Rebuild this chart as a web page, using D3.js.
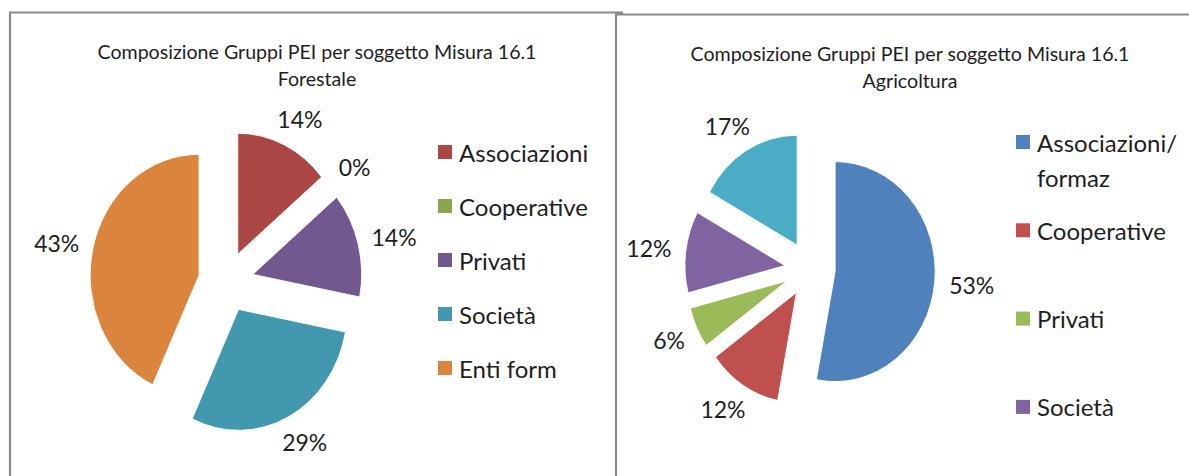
<!DOCTYPE html>
<html>
<head>
<meta charset="utf-8">
<script src="https://cdn.jsdelivr.net/npm/d3@7"></script>
<style>
  body { margin: 0; background: #fff; }
  svg text { font-family: Lato, "Open Sans", sans-serif; fill: #1e1e1e; }
</style>
</head>
<body>
<div id="wrapper"></div>
<script>
// Forestale (left chart)
const forCats = ["Associazioni", "Cooperative", "Privati", "Società", "Enti form"]
const forValues = [14, 0, 14, 29, 43]
const forColors = ["#aa4643", "#89a54e", "#71588f", "#4198af", "#db843d"]

// Agricoltura (right chart) - only the first 4 legend entries are visible
const agrCats = ["Associazioni/\nformaz", "Cooperative", "Privati", "Società", "Enti form"]
const agrValues = [53, 12, 6, 12, 17]
const agrColors = ["#4f81bd", "#c0504d", "#9bbb59", "#8064a2", "#4bacc6"]

const titleLine1 = "Composizione Gruppi PEI per soggetto Misura 16.1"

const width = 1189, height = 476

const svg = d3.select("#wrapper")
    .append("svg")
        .attr("width", width)
        .attr("height", height)

// panel borders
svg.append("path")
    .attr("d", "M10,476V12.5H623M616,12.5V476M617,14.5H1189")
    .attr("fill", "none")
    .attr("stroke", "#8a8a8a")
    .attr("stroke-width", 2.2)

function drawPie(opts) {
    const g = svg.append("g")

    // title
    g.append("text")
        .attr("x", opts.titleX)
        .attr("y", opts.titleY)
        .attr("text-anchor", "middle")
        .style("font-size", "19.6px")
        .selectAll("tspan")
        .data([titleLine1, opts.subtitle])
        .join("tspan")
            .attr("x", opts.titleX)
            .attr("dy", (d, i) => i ? 27 : 0)
            .text(d => d)

    const pie = d3.pie().sort(null).value(d => d)
    const arcs = pie(opts.values)
    const arc = d3.arc().innerRadius(0).outerRadius(opts.r)
    const mid = d => (d.startAngle + d.endAngle) / 2

    // the original picture is squeezed horizontally, so the pie is too
    const slices = g.append("g")
        .attr("transform", `translate(${opts.cx},${opts.cy}) scale(${opts.sx},1)`)

    slices.selectAll("path")
        .data(arcs)
        .join("path")
        .attr("d", arc)
        .attr("transform", d => `translate(${Math.sin(mid(d)) * opts.explode},${-Math.cos(mid(d)) * opts.explode})`)
        .attr("fill", (d, i) => opts.colors[i])
        .attr("stroke", "#fff")
        .attr("stroke-width", 1)

    // labels: box pushed outward from a circle just past the slices
    const total = d3.sum(opts.values)
    const labelR = opts.r + opts.explode + opts.labelGap
    g.append("g")
        .attr("transform", `translate(${opts.cx},${opts.cy})`)
        .selectAll("text")
        .data(arcs)
        .join("text")
        .attr("text-anchor", "middle")
        .attr("dominant-baseline", "central")
        .style("font-size", "23px")
        .text(d => d3.format(".0%")(d.value / total))
        .each(function(d) {
            const a = mid(d)
            const hw = this.getComputedTextLength() / 2
            const hh = 12
            d3.select(this)
                .attr("x", Math.sin(a) * (labelR * opts.sx + hw))
                .attr("y", -Math.cos(a) * (labelR + hh))
        })

    // legend
    const legend = g.append("g")
        .attr("transform", `translate(${opts.legendX},${opts.legendY})`)
    const items = legend.selectAll("g")
        .data(opts.cats.slice(0, opts.legendCount))
        .join("g")
        .attr("transform", (d, i) => `translate(0,${i * opts.legendStep})`)
    items.append("rect")
        .attr("x", 0)
        .attr("y", -7)
        .attr("width", 14)
        .attr("height", 14)
        .attr("fill", (d, i) => opts.colors[i])
    items.append("text")
        .attr("x", 21)
        .style("font-size", "24px")
        .selectAll("tspan")
        .data(d => d.split("\n"))
        .join("tspan")
            .attr("x", 21)
            .attr("y", (d, i) => i * 35)
            .attr("dominant-baseline", "central")
            .text(d => d)
}

drawPie({
    cats: forCats, values: forValues, colors: forColors,
    subtitle: "Forestale", titleX: 317, titleY: 59,
    cx: 226, cy: 282, r: 121, sx: 0.9, explode: 30.7, labelGap: 16,
    legendX: 438, legendY: 152, legendStep: 54, legendCount: 5
})

drawPie({
    cats: agrCats, values: agrValues, colors: agrColors,
    subtitle: "Agricoltura", titleX: 910, titleY: 61,
    cx: 810, cy: 269, r: 110, sx: 0.91, explode: 27.7, labelGap: 16,
    legendX: 1016, legendY: 142, legendStep: 88.3, legendCount: 4
})
</script>
</body>
</html>
